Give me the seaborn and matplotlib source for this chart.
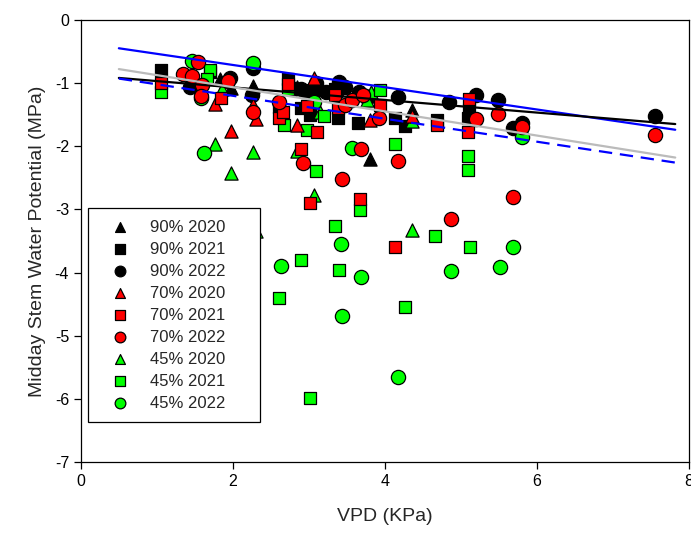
import matplotlib
matplotlib.use("Agg")
import matplotlib.pyplot as plt
import seaborn as sns
import numpy as np
import pandas as pd

# Points (VPD in KPa, stem water potential in MPa)
vpd_90_2020 = [1.83, 1.97, 2.26, 2.84, 3.81, 4.36, 3.78]
swp_90_2020 = [-0.93, -1.08, -1.05, -1.06, -2.20, -1.43, -1.20]

vpd_90_2021 = [1.06, 1.70, 2.61, 2.73, 2.97, 3.11, 3.01, 3.38, 3.64, 4.13, 4.26, 4.68, 5.11, 5.09, 2.90, 3.35]
swp_90_2021 = [-0.79, -0.83, -1.38, -0.93, -1.15, -1.11, -1.50, -1.55, -1.63, -1.56, -1.68, -1.58, -1.43, -1.55, -1.40, -1.10]

vpd_90_2022 = [1.43, 1.96, 2.26, 2.25, 2.90, 3.09, 3.23, 3.36, 3.40, 3.47, 3.66, 4.17, 4.85, 5.20, 5.49, 5.69, 5.81, 7.56, 2.80, 3.00]
swp_90_2022 = [-1.06, -0.92, -0.76, -1.19, -1.10, -1.00, -1.14, -1.16, -0.98, -1.06, -1.15, -1.22, -1.30, -1.19, -1.27, -1.72, -1.64, -1.52, -1.10, -1.13]

vpd_70_2020 = [1.76, 1.98, 2.26, 2.30, 2.84, 3.07, 3.80, 4.36]
swp_70_2020 = [-1.34, -1.76, -1.35, -1.57, -1.66, -0.92, -1.59, -1.52]

vpd_70_2021 = [1.06, 1.85, 2.61, 2.66, 2.73, 2.98, 3.11, 3.34, 3.38, 3.93, 4.68, 5.11, 5.10, 2.90, 3.01, 3.67, 4.13]
swp_70_2021 = [-1.00, -1.24, -1.55, -1.46, -1.02, -1.37, -1.77, -1.19, -1.40, -1.35, -1.66, -1.25, -1.77, -2.05, -2.90, -2.84, -3.60]

vpd_70_2022 = [1.34, 1.46, 1.54, 1.60, 1.94, 2.26, 2.61, 3.47, 3.57, 3.71, 3.92, 5.20, 5.49, 5.81, 7.56,
               2.92, 3.44, 3.69, 4.17, 4.87, 5.69, 1.58]
swp_70_2022 = [-0.86, -0.89, -0.66, -1.03, -0.97, -1.46, -1.30, -1.35, -1.27, -1.19, -1.56, -1.57, -1.49, -1.69, -1.82,
               -2.26, -2.52, -2.05, -2.24, -3.15, -2.80, -1.20]

vpd_45_2020 = [1.86, 1.76, 1.98, 2.26, 2.84, 2.30, 3.07, 3.14, 3.82, 3.76, 4.36, 4.36]
swp_45_2020 = [-1.10, -1.97, -2.43, -2.10, -2.07, -3.34, -2.77, -1.46, -1.14, -1.27, -1.60, -3.32]

vpd_45_2021 = [1.06, 1.70, 1.66, 2.67, 2.73, 2.97, 3.20, 3.93, 4.13, 5.10, 5.10, 3.10, 3.67, 3.34, 2.90, 3.40,
               2.61, 4.27, 4.66, 5.12, 3.01]
swp_45_2021 = [-1.15, -0.80, -0.94, -1.66, -1.10, -1.74, -1.52, -1.11, -1.96, -2.15, -2.38, -2.40, -3.01, -3.27,
               -3.80, -3.96, -4.41, -4.55, -3.42, -3.60, -5.99]

vpd_45_2022 = [1.46, 1.58, 2.26, 3.07, 5.81, 1.62, 3.57, 3.42, 2.63, 3.69, 3.44, 4.87, 5.51, 5.69, 4.17]
swp_45_2022 = [-0.65, -1.24, -0.68, -1.30, -1.85, -2.11, -2.03, -3.55, -3.90, -4.07, -4.69, -3.98, -3.92, -3.60, -5.66]

# fitted lines: (intercept, slope) over the VPD span
line_names = ["upper", "all", "mean", "lower"]
line_intercepts = [-0.362, -0.870, -0.684, -0.839]
line_slopes = [-0.1762, -0.0997, -0.1913, -0.1817]
line_span = [0.5, 7.82]

groups = [
    ("90% 2020", vpd_90_2020, swp_90_2020, "black", "^"),
    ("90% 2021", vpd_90_2021, swp_90_2021, "black", "s"),
    ("90% 2022", vpd_90_2022, swp_90_2022, "black", "o"),
    ("70% 2020", vpd_70_2020, swp_70_2020, "#ff0000", "^"),
    ("70% 2021", vpd_70_2021, swp_70_2021, "#ff0000", "s"),
    ("70% 2022", vpd_70_2022, swp_70_2022, "#ff0000", "o"),
    ("45% 2020", vpd_45_2020, swp_45_2020, "#00ff00", "^"),
    ("45% 2021", vpd_45_2021, swp_45_2021, "#00ff00", "s"),
    ("45% 2022", vpd_45_2022, swp_45_2022, "#00ff00", "o"),
]
draw_z = {"90": 3, "45": 4, "70": 5}
marker_size = {"^": 90, "s": 80, "o": 105}

sns.set_style("ticks")
plt.rcParams["font.family"] = ["Liberation Sans", "DejaVu Sans"]
plt.rcParams["axes.unicode_minus"] = False

fig = plt.figure(figsize=(6.91, 5.36), dpi=100)
ax = fig.add_axes([0.117, 0.138, 0.880, 0.825])

for label, xs, ys, col, mk in groups:
    df = pd.DataFrame({"VPD": xs, "SWP": ys})
    sns.scatterplot(data=df, x="VPD", y="SWP", ax=ax, color=col, marker=mk,
                    s=marker_size[mk], edgecolor="black", linewidth=0.9,
                    label=label, zorder=draw_z[label[:2]])

xs_line = np.array(line_span)
line_styles = {"upper": ("#0000ff", "-"), "all": ("black", "-"),
               "mean": ("#bbbbbb", "-"), "lower": ("#0000ff", (0, (6, 3.5)))}
for name, b0, b1 in zip(line_names, line_intercepts, line_slopes):
    col, ls = line_styles[name]
    sns.lineplot(x=xs_line, y=b0 + b1 * xs_line, ax=ax, color=col,
                 linestyle=ls, linewidth=1.6, zorder=6, legend=False)

ax.set_xlim(0, 8)
ax.set_ylim(-7, 0)
ax.set_xticks([0, 2, 4, 6, 8])
ax.set_yticks(range(-7, 1))
ax.tick_params(direction="out", length=5, width=0.9, labelsize=11.5, colors="black")
for sp in ax.spines.values():
    sp.set_visible(True)
    sp.set_linewidth(0.9)
    sp.set_color("black")

ax.set_xlabel("VPD (KPa)", fontsize=14, labelpad=14)
ax.set_ylabel("Midday Stem Water Potential (MPa)", fontsize=14, labelpad=6)

handles, labels = ax.get_legend_handles_labels()
order = [labels.index(g[0]) for g in groups]
leg = ax.legend([handles[i] for i in order], [labels[i] for i in order],
                loc="lower left", bbox_to_anchor=(0.0115, 0.09, 0.283, 0.45),
                mode="expand", borderaxespad=0, fontsize=12, frameon=True,
                fancybox=False, edgecolor="black", framealpha=1,
                handlelength=2.5, handletextpad=0.55, labelspacing=0.42,
                borderpad=0.7, markerscale=0.75)
leg.get_frame().set_linewidth(0.9)
leg.set_zorder(10)

fig.savefig("out.png", dpi=100)
